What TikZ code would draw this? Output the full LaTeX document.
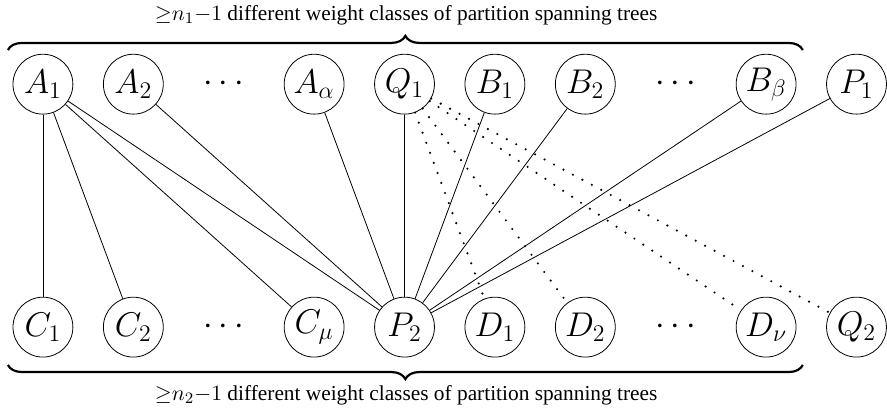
\documentclass[tikz,border=0pt]{standalone}
\usepackage[no-math]{fontspec}
\setmainfont{Liberation Serif}
\usetikzlibrary{decorations.pathreplacing}

\begin{document}
\begin{tikzpicture}[
		vertex/.style={circle, draw, minimum size=1.06cm, inner sep=0pt, font=\LARGE},
		dotedge/.style={line width=1.2pt, line cap=round, dash pattern=on 0pt off 5.4pt},
		brc/.style={decorate, decoration={brace, amplitude=0.25cm}, line width=1.1pt},
		caption/.style={font=\fontsize{10.75}{13}\selectfont}
	]
			%%%%% START %%%%%
			\useasboundingbox (0, 0) rectangle (15.7, -7.33);
			
			\node[vertex] (A1) at (0.76, -1.49) {$A_1$};
			\node[vertex] (A2) at (2.36, -1.49) {$A_2$};
			\node[font=\LARGE] (dotsA) at (3.96, -1.49) {$\cdots$};
			\node[vertex] (Aa) at (5.56, -1.49) {$A_\alpha$};
			\node[vertex] (Q1) at (7.16, -1.49) {$Q_1$};
			\node[vertex] (B1) at (8.76, -1.49) {$B_1$};
			\node[vertex] (B2) at (10.36, -1.49) {$B_2$};
			\node[font=\LARGE] (dotsB) at (11.96, -1.49) {$\cdots$};
			\node[vertex] (Bb) at (13.56, -1.49) {$B_\beta$};
			\node[vertex] (P1) at (15.16, -1.49) {$P_1$};
			
			\node[vertex] (C1) at (0.76, -5.79) {$C_1$};
			\node[vertex] (C2) at (2.36, -5.79) {$C_2$};
			\node[font=\LARGE] (dotsC) at (3.96, -5.79) {$\cdots$};
			\node[vertex] (Cm) at (5.56, -5.79) {$C_\mu$};
			\node[vertex] (P2) at (7.16, -5.79) {$P_2$};
			\node[vertex] (D1) at (8.76, -5.79) {$D_1$};
			\node[vertex] (D2) at (10.36, -5.79) {$D_2$};
			\node[font=\LARGE] (dotsD) at (11.96, -5.79) {$\cdots$};
			\node[vertex] (Dn) at (13.56, -5.79) {$D_\nu$};
			\node[vertex] (Q2) at (15.16, -5.79) {$Q_2$};
			
			\draw (A1) -- (C1);
			\draw (A1) -- (C2);
			\draw (A1) -- (Cm);
			\draw (A1) -- (P2);
			\draw (A2) -- (P2);
			\draw (Aa) -- (P2);
			\draw (Q1) -- (P2);
			\draw (B1) -- (P2);
			\draw (B2) -- (P2);
			\draw (Bb) -- (P2);
			\draw (P1) -- (P2);
			
			\draw[dotedge] (Q1) -- (D1);
			\draw[dotedge] (Q1) -- (D2);
			\draw[dotedge] (Q1) -- (Dn);
			\draw[dotedge] (Q1) -- (Q2);
			
			\draw[brc] (0.14, -0.885) -- (14.21, -0.885);
			\node[caption] (topLabel) at (7.19, -0.27) {${\geq}n_1{-}1$ different weight classes of partition spanning trees};
			
			\draw[brc] (14.21, -6.46) -- (0.14, -6.46);
			\node[caption] (botLabel) at (7.19, -6.99) {${\geq}n_2{-}1$ different weight classes of partition spanning trees};
			
			%%%%% END %%%%%
\end{tikzpicture}
\end{document}
